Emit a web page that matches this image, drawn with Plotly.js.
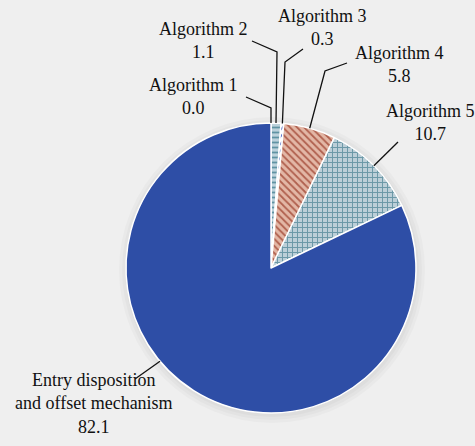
<!DOCTYPE html>
<html>
<head>
<meta charset="utf-8">
<script src="https://cdn.plot.ly/plotly-3.0.1.min.js"></script>
<style>
  html, body { margin: 0; padding: 0; background: #efefef; }
  #chart { width: 475px; height: 446px; }
</style>
</head>
<body>
<div id="chart"></div>
<script>
// shares of each method (%)
const labels = ['Algorithm 1', 'Algorithm 2', 'Algorithm 3', 'Algorithm 4', 'Algorithm 5',
                'Entry disposition<br>and offset mechanism'];
const values = [0.0, 1.1, 0.3, 5.8, 10.7, 82.1];
const valueText = ['0.0', '1.1', '0.3', '5.8', '10.7', '82.1'];

// slice styling
const bgColors = ['#bcd2dc', '#bcd2dc', '#ffffff', '#e3b7a6', '#bccfd8', '#2e4ea6'];
const fgColors = ['#5f93a3', '#5f93a3', '#4262c2', '#b0604e', '#6a98a6', '#2e4ea6'];
const shapes = ['-', '-', '/', '\\', '+', ''];

// label placement (px) and leader elbows (px)
const labelPos = [[193, 97], [203, 40], [322, 28], [399, 65], [430, 122], [94, 403]];
const leaderStart = [[246, 97], [252, 41], [303, 49], [347, 63], [398, 142], [135, 379]];
const leaderElbow = [[271, 108], [277, 52], [285, 62], [325, 71], null, null];
const leaderFrac = [0.5, 0.5, 0.5, 0.5, 0.5, 0.56];

const W = 475, H = 446;
const cx = 271, cy = 268, R = 145;
const px = x => x / W;
const py = y => 1 - y / H;

const total = values.reduce((a, b) => a + b, 0);
let cum = 0;
const anchors = values.map((v, i) => {
    const a = (cum + v * leaderFrac[i]) / total * 2 * Math.PI;
    cum += v;
    return [cx + R * Math.sin(a), cy - R * Math.cos(a)];
});

const shadowShapes = [8, 5, 2].map(d => ({
    type: 'circle', xref: 'paper', yref: 'paper', layer: 'below',
    x0: px(cx - R - d + 1), x1: px(cx + R + d + 1),
    y0: py(cy + R + d + 2), y1: py(cy - R - d + 2),
    fillcolor: 'rgba(0,0,0,0.025)', line: { width: 0 }
}));

const leaderShapes = labels.map((l, i) => {
    const pts = [leaderStart[i]];
    if (leaderElbow[i]) pts.push(leaderElbow[i]);
    pts.push(anchors[i]);
    const path = pts.map((p, k) => (k ? 'L' : 'M') + px(p[0]) + ',' + py(p[1])).join(' ');
    return { type: 'path', xref: 'paper', yref: 'paper', path: path,
             line: { color: '#111111', width: 1.3 } };
});

const annotations = labels.map((l, i) => ({
    xref: 'paper', yref: 'paper', x: px(labelPos[i][0]), y: py(labelPos[i][1]),
    xanchor: 'center', yanchor: 'middle', showarrow: false, align: 'center',
    text: l + '<br>' + valueText[i],
    font: { family: 'Liberation Serif', size: 18, color: '#111111' }
}));

const trace = {
    type: 'pie',
    labels: labels,
    values: values,
    sort: false,
    direction: 'clockwise',
    rotation: 0,
    textinfo: 'none',
    hoverinfo: 'label+value',
    domain: { x: [px(cx - R), px(cx + R)], y: [py(cy + R), py(cy - R)] },
    marker: {
        colors: bgColors,
        line: { color: '#ffffff', width: 1.5 },
        pattern: { shape: shapes, bgcolor: bgColors, fgcolor: fgColors, size: 5, solidity: 0.35 }
    }
};

const layout = {
    width: W, height: H,
    margin: { l: 0, r: 0, t: 0, b: 0 },
    paper_bgcolor: '#efefef',
    font: { family: 'Liberation Serif' },
    showlegend: false,
    shapes: shadowShapes.concat(leaderShapes),
    annotations: annotations
};

Plotly.newPlot('chart', [trace], layout, { displayModeBar: false, staticPlot: true });
</script>
</body>
</html>
